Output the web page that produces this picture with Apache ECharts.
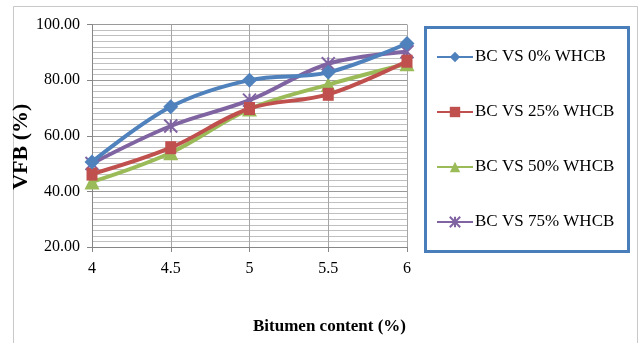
<!DOCTYPE html>
<html><head><meta charset="utf-8">
<script src="https://cdn.jsdelivr.net/npm/echarts@6/dist/echarts.min.js"></script>
<style>html,body{margin:0;padding:0;background:#fff}#c{width:641px;height:343px}</style>
</head><body><div id="c"></div>
<script>
const categories = ['4', '4.5', '5', '5.5', '6'];
const seriesNames = ['BC VS 0% WHCB', 'BC VS 25% WHCB', 'BC VS 50% WHCB', 'BC VS 75% WHCB'];
const wh0 = [50.6, 70.4, 80.0, 82.8, 93.2];
const wh25 = [46.2, 55.7, 69.8, 74.9, 86.8];
const wh50 = [43.4, 53.9, 69.6, 78.4, 85.9];
const wh75 = [50.0, 63.5, 72.8, 85.9, 90.2];
const yTicks = [20, 40, 60, 80, 100];

const colors = ['#4f81bd', '#c0504d', '#9bbb59', '#8064a2'];
const symbols = ['diamond', 'rect', 'triangle', 'path://M0,0L10,10M10,0L0,10M5,0L5,10'];
const sizes = [15, [11, 13], 15, 13];
const datas = [wh0, wh25, wh50, wh75];
const font = '"Liberation Serif","Times New Roman",serif';

const series = seriesNames.map((n, i) => ({
  name: n, type: 'line', data: datas[i], smooth: 0.35,
  symbol: symbols[i], symbolSize: sizes[i], showAllSymbol: true,
  lineStyle: { color: colors[i], width: 4 },
  itemStyle: i === 3 ? { color: colors[i], borderColor: colors[i], borderWidth: 2 } : { color: colors[i], borderWidth: 0 },
  z: 10 - i
}));

const legendCenters = [57, 112, 167, 222];
const legends = seriesNames.map((n, i) => ({
  data: [n], left: 436, top: legendCenters[i] - 9, padding: 0,
  itemWidth: 36, itemHeight: 13, itemGap: 2,
  textStyle: { fontFamily: font, fontSize: 17, color: '#000', lineHeight: 18, padding: [0, 0, 0, -3] }
}));

const chart = echarts.init(document.getElementById('c'), null, { renderer: 'canvas' });
chart.setOption({
  animation: false,
  backgroundColor: '#fff',
  color: colors,
  graphic: [
    { type: 'rect', shape: { x: 13.5, y: 6.5, width: 624, height: 345 }, style: { fill: 'none', stroke: '#c8c8c8', lineWidth: 1 }, z: -10 },
    { type: 'rect', shape: { x: 425.5, y: 27.5, width: 203, height: 224 }, style: { fill: '#fff', stroke: '#4a7ebb', lineWidth: 3 }, z: 0 }
  ],
  legend: legends,
  grid: { left: 92, right: 234, top: 24.5, bottom: 96 },
  xAxis: {
    type: 'category', data: categories, boundaryGap: false,
    name: 'Bitumen content (%)', nameLocation: 'middle', nameGap: 71,
    nameTextStyle: { fontFamily: font, fontSize: 17, fontWeight: 'bold', color: '#000', padding: [0, 0, 0, 160] },
    axisLine: { lineStyle: { color: '#868686', width: 1 } },
    axisTick: { show: true, length: 5, lineStyle: { color: '#868686' } },
    axisLabel: { fontFamily: font, fontSize: 16, color: '#000', margin: 14 },
    splitLine: { show: true, lineStyle: { color: '#a6a6a6', width: 1 } }
  },
  yAxis: {
    type: 'value', min: yTicks[0], max: yTicks[yTicks.length - 1], interval: 20,
    name: 'VFB (%)', nameLocation: 'middle', nameGap: 52, nameRotate: 90,
    nameTextStyle: { fontFamily: font, fontSize: 22, fontWeight: 'bold', color: '#000', padding: [0, 22, 0, 0] },
    axisLine: { show: true, lineStyle: { color: '#868686', width: 1 } },
    axisTick: { show: true, length: 5, lineStyle: { color: '#868686' } },
    axisLabel: { fontFamily: font, fontSize: 16, color: '#000', margin: 12, formatter: v => v.toFixed(2) },
    splitLine: { show: true, lineStyle: { color: '#9a9a9a', width: 1 } },
    minorTick: { show: false, splitNumber: 10 },
    minorSplitLine: { show: true, lineStyle: { color: '#c0c0c0', width: 1 } }
  },
  series: series
});
</script></body></html>
